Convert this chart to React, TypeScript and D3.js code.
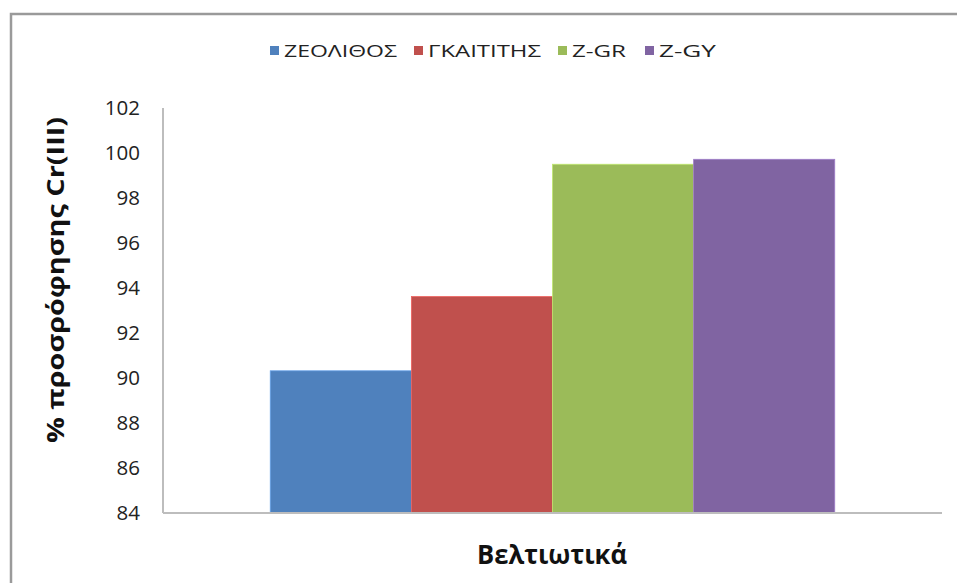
import React from "react";
import * as d3 from "d3";

// Chart data
const categories: string[] = ["Βελτιωτικά"];
const seriesNames: string[] = ["ΖΕΟΛΙΘΟΣ", "ΓΚΑΙΤΙΤΗΣ", "Z-GR", "Z-GY"];
const seriesValues: number[] = [90.32, 93.62, 99.5, 99.72];
const seriesColors: string[] = ["#4F81BD", "#C0504D", "#9BBB59", "#8064A2"];
const yTicks: number[] = [84, 86, 88, 90, 92, 94, 96, 98, 100, 102];
const yTitle = "% προσρόφησης Cr(III)";

const W = 957;
const H = 583;
const plot = { left: 163, right: 942, top: 108, bottom: 513 };
const legendX = [270, 414, 558, 645];
const legendTextW = [113, 113, 54, 57];

export default function App() {
  const y = d3.scaleLinear().domain([84, 102]).range([plot.bottom, plot.top]);
  const xOuter = d3
    .scaleBand<string>()
    .domain(categories)
    .range([plot.left, plot.right])
    .paddingInner(0)
    .paddingOuter(0.19);
  const x0 = xOuter(categories[0]) ?? 0;
  const xInner = d3
    .scaleBand<string>()
    .domain(seriesNames)
    .range([x0, x0 + xOuter.bandwidth()])
    .padding(0);

  const font = "'Open Sans', 'DejaVu Sans', sans-serif";

  return (
    <svg
      width={W}
      height={H}
      style={{ position: "absolute", left: 0, top: 0, background: "#fff" }}
      fontFamily={font}
    >
      {/* outer frame */}
      <rect x={11} y={14} width={W + 20} height={H + 20} fill="#fff" stroke="#9a9a9a" strokeWidth={2.5} />

      {/* legend */}
      {seriesNames.map((s, i) => (
        <g key={s}>
          <rect x={legendX[i]} y={46} width={9} height={9} fill={seriesColors[i]} />
          <text
            x={legendX[i] + 14}
            y={57}
            fontSize={17}
            fill="#222"
            textLength={legendTextW[i]}
            lengthAdjust="spacingAndGlyphs"
          >
            {s}
          </text>
        </g>
      ))}

      {/* bars */}
      {seriesNames.map((s, i) => (
        <rect
          key={s}
          x={xInner(s)}
          y={y(seriesValues[i])}
          width={xInner.bandwidth()}
          height={plot.bottom - y(seriesValues[i])}
          fill={seriesColors[i]}
          stroke={d3.color(seriesColors[i])?.brighter(0.6).formatHex()}
          strokeWidth={0.8}
        />
      ))}

      {/* axes */}
      <line x1={plot.left} x2={plot.left} y1={plot.top} y2={plot.bottom} stroke="#bdbdbd" strokeWidth={2} />
      <line x1={plot.left} x2={plot.right} y1={plot.bottom} y2={plot.bottom} stroke="#bdbdbd" strokeWidth={2} />

      {yTicks.map((t) => (
        <text key={t} x={140} y={y(t) + 7} textAnchor="end" fontSize={20.5} fill="#222">
          {t}
        </text>
      ))}

      {/* axis titles */}
      <text
        transform={`translate(64, ${280}) rotate(-90)`}
        textAnchor="middle"
        fontSize={24}
        fontWeight="bold"
        fill="#111"
        textLength={326}
        lengthAdjust="spacingAndGlyphs"
      >
        {yTitle}
      </text>
      <text
        x={552}
        y={564}
        textAnchor="middle"
        fontSize={27}
        fontWeight="bold"
        fill="#111"
        textLength={150}
        lengthAdjust="spacingAndGlyphs"
      >
        {categories[0]}
      </text>
    </svg>
  );
}
